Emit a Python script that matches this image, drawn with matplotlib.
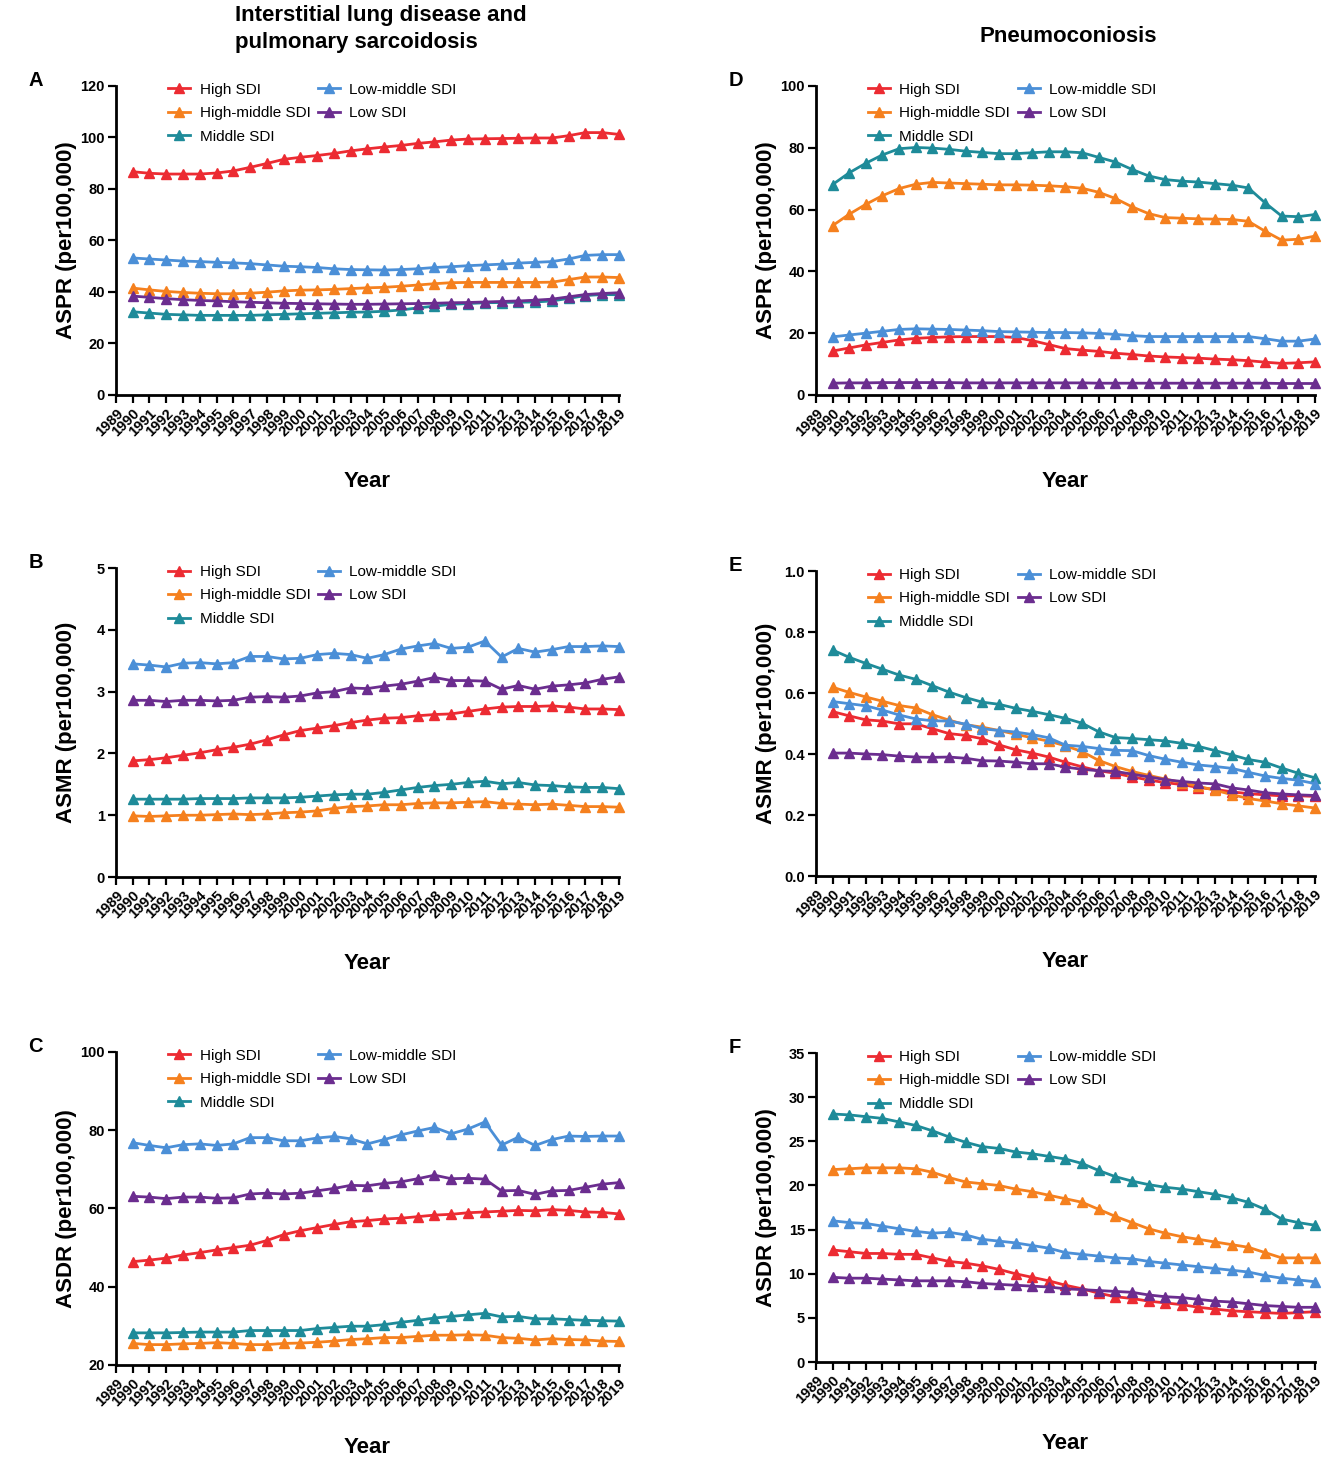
import matplotlib
matplotlib.use("Agg")
import matplotlib.pyplot as plt
import numpy as np

plt.rcParams['font.family'] = ['Liberation Sans', 'DejaVu Sans']

years = np.arange(1990, 2020)
tick_years = np.arange(1989, 2020)
groups = ["High SDI", "High-middle SDI", "Middle SDI", "Low-middle SDI", "Low SDI"]
colors = ["#EC2B32", "#F5801E", "#1E8B99", "#4B8FD7", "#6B2D8F"]

# A: ASPR, interstitial lung disease and pulmonary sarcoidosis
aspr_ild_high = [86.7, 86.1, 85.8, 85.8, 85.8, 86.2, 87.0, 88.4, 89.9, 91.5, 92.3, 93.0, 93.8, 94.8, 95.6,
                 96.3, 96.9, 97.7, 98.3, 99.0, 99.4, 99.5, 99.6, 99.7, 99.8, 99.8, 100.7, 101.9, 101.9, 101.2]
aspr_ild_highmid = [41.5, 40.8, 40.2, 39.8, 39.5, 39.3, 39.3, 39.5, 39.9, 40.4, 40.7, 40.8, 41.0, 41.3, 41.6,
                    41.8, 42.2, 42.7, 43.2, 43.6, 43.7, 43.7, 43.7, 43.7, 43.7, 43.8, 44.8, 45.8, 45.8, 45.6]
aspr_ild_mid = [32.3, 31.8, 31.3, 31.1, 30.9, 30.9, 30.9, 30.9, 31.1, 31.3, 31.5, 31.7, 31.9, 32.1, 32.2,
                32.5, 33.0, 33.8, 34.5, 35.2, 35.5, 35.8, 35.9, 36.0, 36.1, 36.5, 37.5, 38.6, 39.0, 38.9]
aspr_ild_lowmid = [53.2, 52.8, 52.4, 52.0, 51.8, 51.5, 51.3, 51.0, 50.5, 50.0, 49.8, 49.5, 49.0, 48.7, 48.6,
                   48.5, 48.7, 49.0, 49.5, 49.8, 50.2, 50.5, 50.8, 51.2, 51.5, 51.8, 52.8, 54.2, 54.5, 54.5]
aspr_ild_low = [38.4, 37.9, 37.4, 37.0, 36.7, 36.5, 36.2, 36.0, 35.8, 35.6, 35.5, 35.4, 35.3, 35.2, 35.2,
                35.3, 35.4, 35.5, 35.6, 35.8, 35.9, 36.1, 36.3, 36.5, 36.8, 37.2, 38.1, 39.0, 39.4, 39.7]

# B: ASMR, interstitial lung disease and pulmonary sarcoidosis
asmr_ild_high = [1.88, 1.90, 1.93, 1.97, 2.01, 2.06, 2.10, 2.15, 2.22, 2.30, 2.37, 2.41, 2.45, 2.50, 2.54,
                 2.57, 2.58, 2.61, 2.63, 2.64, 2.68, 2.72, 2.75, 2.76, 2.76, 2.77, 2.75, 2.72, 2.72, 2.71]
asmr_ild_highmid = [0.99, 0.98, 0.99, 1.00, 1.00, 1.01, 1.02, 1.01, 1.02, 1.04, 1.05, 1.07, 1.11, 1.14, 1.15,
                    1.17, 1.17, 1.19, 1.20, 1.20, 1.21, 1.22, 1.19, 1.18, 1.17, 1.18, 1.16, 1.14, 1.14, 1.13]
asmr_ild_mid = [1.26, 1.26, 1.26, 1.26, 1.27, 1.27, 1.27, 1.28, 1.28, 1.28, 1.29, 1.31, 1.33, 1.34, 1.34,
                1.37, 1.41, 1.45, 1.48, 1.50, 1.53, 1.55, 1.51, 1.53, 1.49, 1.48, 1.46, 1.45, 1.45, 1.43]
asmr_ild_lowmid = [3.45, 3.43, 3.40, 3.46, 3.47, 3.45, 3.47, 3.57, 3.57, 3.53, 3.54, 3.60, 3.62, 3.60, 3.54,
                   3.60, 3.69, 3.74, 3.78, 3.70, 3.72, 3.82, 3.56, 3.70, 3.64, 3.68, 3.73, 3.73, 3.74, 3.73]
asmr_ild_low = [2.86, 2.86, 2.84, 2.86, 2.86, 2.85, 2.86, 2.91, 2.92, 2.91, 2.93, 2.98, 3.00, 3.06, 3.05,
                3.09, 3.12, 3.17, 3.23, 3.18, 3.18, 3.17, 3.04, 3.10, 3.04, 3.09, 3.11, 3.14, 3.20, 3.24]

# C: ASDR, interstitial lung disease and pulmonary sarcoidosis
asdr_ild_high = [46.4, 46.8, 47.3, 48.1, 48.7, 49.4, 50.0, 50.6, 51.8, 53.3, 54.3, 55.1, 55.9, 56.6, 56.9,
                 57.3, 57.5, 57.9, 58.3, 58.5, 58.9, 59.1, 59.3, 59.5, 59.4, 59.7, 59.5, 59.1, 59.0, 58.6]
asdr_ild_highmid = [25.5, 25.2, 25.2, 25.4, 25.5, 25.7, 25.5, 25.2, 25.2, 25.5, 25.6, 25.8, 26.1, 26.5, 26.7,
                    27.0, 27.0, 27.3, 27.6, 27.6, 27.7, 27.6, 27.0, 26.8, 26.4, 26.7, 26.5, 26.4, 26.1, 26.0]
asdr_ild_mid = [28.2, 28.2, 28.2, 28.3, 28.4, 28.4, 28.4, 28.8, 28.8, 28.8, 28.8, 29.3, 29.6, 29.9, 29.9,
                30.3, 30.9, 31.4, 32.0, 32.4, 32.8, 33.2, 32.3, 32.4, 31.8, 31.8, 31.6, 31.4, 31.3, 31.2]
asdr_ild_lowmid = [76.8, 76.1, 75.5, 76.3, 76.5, 76.1, 76.5, 78.1, 78.1, 77.3, 77.3, 78.0, 78.4, 77.8, 76.5,
                   77.6, 78.8, 79.8, 80.7, 79.1, 80.3, 82.1, 76.2, 78.2, 76.1, 77.6, 78.5, 78.4, 78.5, 78.5]
asdr_ild_low = [63.1, 62.9, 62.5, 62.9, 62.9, 62.6, 62.7, 63.7, 63.9, 63.7, 63.9, 64.5, 65.1, 65.9, 65.8,
                66.4, 66.8, 67.6, 68.5, 67.6, 67.7, 67.5, 64.5, 64.6, 63.6, 64.5, 64.6, 65.4, 66.2, 66.6]

# D: ASPR, pneumoconiosis
aspr_pn_high = [14.2, 15.2, 16.2, 17.0, 17.8, 18.3, 18.6, 18.8, 18.9, 18.9, 18.9, 18.6, 17.6, 16.3, 15.0,
                14.5, 14.1, 13.5, 13.1, 12.6, 12.3, 12.1, 11.9, 11.6, 11.4, 11.1, 10.6, 10.2, 10.4, 10.7]
aspr_pn_highmid = [54.8, 58.5, 61.7, 64.5, 66.8, 68.2, 68.8, 68.6, 68.4, 68.2, 68.0, 68.0, 67.9, 67.7, 67.4,
                   66.9, 65.6, 63.6, 60.9, 58.7, 57.4, 57.2, 57.0, 56.9, 56.8, 56.2, 53.0, 50.1, 50.4, 51.4]
aspr_pn_mid = [68.1, 71.9, 75.0, 77.7, 79.7, 80.1, 79.9, 79.5, 78.9, 78.5, 78.1, 78.1, 78.4, 78.7, 78.7,
               78.4, 76.9, 75.4, 73.0, 70.9, 69.7, 69.2, 68.9, 68.4, 67.9, 67.0, 62.2, 57.9, 57.7, 58.4]
aspr_pn_lowmid = [18.8, 19.4, 20.0, 20.6, 21.2, 21.4, 21.3, 21.2, 21.0, 20.8, 20.5, 20.4, 20.3, 20.2, 20.2,
                  20.1, 19.9, 19.6, 19.2, 18.9, 18.9, 18.9, 18.9, 18.9, 18.9, 18.9, 18.2, 17.4, 17.4, 18.1]
aspr_pn_low = [3.8, 3.9, 3.9, 4.0, 4.0, 4.0, 4.0, 4.0, 3.9, 3.9, 3.9, 3.9, 3.9, 3.9, 3.9,
               3.9, 3.8, 3.8, 3.8, 3.8, 3.8, 3.8, 3.8, 3.8, 3.8, 3.8, 3.8, 3.7, 3.7, 3.7]

# E: ASMR, pneumoconiosis
asmr_pn_high = [0.539, 0.525, 0.512, 0.508, 0.499, 0.499, 0.483, 0.467, 0.461, 0.450, 0.430, 0.414, 0.403, 0.390, 0.373,
                0.358, 0.345, 0.337, 0.325, 0.315, 0.306, 0.300, 0.290, 0.284, 0.276, 0.270, 0.266, 0.263, 0.263, 0.261]
asmr_pn_highmid = [0.619, 0.602, 0.587, 0.573, 0.559, 0.551, 0.529, 0.511, 0.496, 0.488, 0.477, 0.465, 0.453, 0.442, 0.427,
                   0.408, 0.379, 0.359, 0.343, 0.330, 0.318, 0.306, 0.294, 0.281, 0.267, 0.254, 0.246, 0.237, 0.230, 0.223]
asmr_pn_mid = [0.741, 0.717, 0.697, 0.678, 0.659, 0.645, 0.624, 0.603, 0.585, 0.570, 0.563, 0.550, 0.540, 0.529, 0.517,
               0.501, 0.473, 0.454, 0.451, 0.447, 0.443, 0.435, 0.425, 0.411, 0.397, 0.382, 0.373, 0.354, 0.337, 0.322]
asmr_pn_lowmid = [0.572, 0.565, 0.558, 0.544, 0.528, 0.515, 0.509, 0.508, 0.498, 0.483, 0.477, 0.472, 0.464, 0.453, 0.429,
                  0.425, 0.418, 0.412, 0.411, 0.395, 0.383, 0.373, 0.364, 0.359, 0.353, 0.340, 0.328, 0.320, 0.314, 0.303]
asmr_pn_low = [0.403, 0.403, 0.400, 0.398, 0.393, 0.390, 0.389, 0.390, 0.386, 0.378, 0.377, 0.373, 0.368, 0.368, 0.357,
               0.350, 0.345, 0.343, 0.334, 0.325, 0.316, 0.310, 0.305, 0.302, 0.289, 0.282, 0.273, 0.269, 0.266, 0.264]

# F: ASDR, pneumoconiosis
asdr_pn_high = [12.7, 12.5, 12.3, 12.3, 12.2, 12.2, 11.8, 11.4, 11.2, 10.9, 10.5, 10.0, 9.6, 9.2, 8.7,
                8.3, 7.8, 7.4, 7.2, 6.9, 6.7, 6.5, 6.2, 6.0, 5.8, 5.7, 5.6, 5.5, 5.6, 5.7]
asdr_pn_highmid = [21.8, 21.9, 22.0, 22.0, 22.0, 21.9, 21.5, 20.9, 20.4, 20.2, 20.0, 19.6, 19.3, 18.9, 18.5,
                   18.1, 17.3, 16.5, 15.8, 15.1, 14.6, 14.2, 13.9, 13.6, 13.3, 13.0, 12.4, 11.8, 11.8, 11.8]
asdr_pn_mid = [28.1, 28.0, 27.8, 27.6, 27.2, 26.8, 26.2, 25.5, 24.9, 24.4, 24.2, 23.8, 23.6, 23.3, 23.0,
               22.5, 21.7, 21.0, 20.5, 20.1, 19.8, 19.6, 19.3, 19.0, 18.6, 18.1, 17.3, 16.2, 15.8, 15.5]
asdr_pn_lowmid = [16.0, 15.8, 15.7, 15.4, 15.1, 14.8, 14.6, 14.7, 14.4, 13.9, 13.7, 13.5, 13.2, 12.9, 12.4,
                  12.2, 12.0, 11.8, 11.7, 11.4, 11.2, 11.0, 10.8, 10.6, 10.4, 10.2, 9.8, 9.5, 9.3, 9.1]
asdr_pn_low = [9.6, 9.5, 9.5, 9.4, 9.3, 9.2, 9.2, 9.2, 9.1, 8.9, 8.8, 8.7, 8.6, 8.5, 8.3,
               8.2, 8.1, 8.0, 7.9, 7.6, 7.4, 7.3, 7.1, 6.9, 6.8, 6.6, 6.4, 6.3, 6.2, 6.2]

fig = plt.figure(figsize=(13.25, 14.6), dpi=100)


def panel(rect, series, ylabel, yticks, ylim, fmt, letter, ylab_x, xlab_y):
    ax = fig.add_axes(rect)
    for vals, name, c in zip(series, groups, colors):
        ax.plot(years, vals, color=c, lw=2, marker="^", ms=7.5, mec=c, mfc=c,
                label=name, clip_on=False, zorder=3)
    ax.set_xlim(1989, 2019)
    ax.set_ylim(*ylim)
    ax.set_xticks(tick_years)
    ax.set_xticklabels([str(y) for y in tick_years], rotation=45, ha="right",
                       rotation_mode="anchor", fontsize=10.5, fontweight="bold")
    ax.set_yticks(yticks)
    ax.set_yticklabels([fmt.format(v) for v in yticks], fontsize=10.5, fontweight="bold")
    for s in ["top", "right"]:
        ax.spines[s].set_visible(False)
    for s in ["left", "bottom"]:
        ax.spines[s].set_linewidth(2)
    ax.tick_params(width=1.6, length=6, pad=2)
    ax.set_ylabel(ylabel, fontsize=16, fontweight="bold")
    ax.yaxis.set_label_coords(ylab_x, 0.5)
    ax.set_xlabel("Year", fontsize=16, fontweight="bold")
    ax.xaxis.set_label_coords(0.5, xlab_y)
    ax.legend(loc="upper left", bbox_to_anchor=(0.092, 1.03), ncol=2, frameon=False,
              fontsize=11, handlelength=1.45, handletextpad=0.6, columnspacing=0.5,
              labelspacing=0.62, borderaxespad=0)
    fig.text(rect[0] - 0.066, rect[1] + rect[3] + 0.004, letter, fontsize=14.5,
             fontweight="bold", ha="left", va="center")
    return ax


panel([0.0875, 0.7295, 0.3796, 0.2116],
      [aspr_ild_high, aspr_ild_highmid, aspr_ild_mid, aspr_ild_lowmid, aspr_ild_low],
      "ASPR (per100,000)", np.arange(0, 121, 20), (0, 120), "{:.0f}", "A", -0.078, -0.245)
panel([0.0875, 0.3993, 0.3796, 0.2116],
      [asmr_ild_high, asmr_ild_highmid, asmr_ild_mid, asmr_ild_lowmid, asmr_ild_low],
      "ASMR (per100,000)", np.arange(0, 6, 1), (0, 5), "{:.0f}", "B", -0.078, -0.245)
panel([0.0875, 0.0651, 0.3796, 0.2144],
      [asdr_ild_high, asdr_ild_highmid, asdr_ild_mid, asdr_ild_lowmid, asdr_ild_low],
      "ASDR (per100,000)", np.arange(20, 101, 20), (20, 100), "{:.0f}", "C", -0.078, -0.23)
panel([0.6158, 0.7295, 0.3766, 0.2116],
      [aspr_pn_high, aspr_pn_highmid, aspr_pn_mid, aspr_pn_lowmid, aspr_pn_low],
      "ASPR (per100,000)", np.arange(0, 101, 20), (0, 100), "{:.0f}", "D", -0.078, -0.245)
panel([0.6158, 0.4000, 0.3766, 0.2089],
      [asmr_pn_high, asmr_pn_highmid, asmr_pn_mid, asmr_pn_lowmid, asmr_pn_low],
      "ASMR (per100,000)", np.round(np.arange(0, 1.01, 0.2), 1), (0, 1.0), "{:.1f}", "E", -0.078, -0.245)
panel([0.6158, 0.0671, 0.3766, 0.2116],
      [asdr_pn_high, asdr_pn_highmid, asdr_pn_mid, asdr_pn_lowmid, asdr_pn_low],
      "ASDR (per100,000)", np.arange(0, 36, 5), (0, 35), "{:.0f}", "F", -0.078, -0.23)

fig.text(235 / 1325, 1 - 5 / 1460, "Interstitial lung disease and\npulmonary sarcoidosis",
         fontsize=16, fontweight="bold", ha="left", va="top", linespacing=1.35)
fig.text(1068 / 1325, 1 - 36 / 1460, "Pneumoconiosis", fontsize=16, fontweight="bold",
         ha="center", va="center")

fig.savefig("out.png", dpi=100)
